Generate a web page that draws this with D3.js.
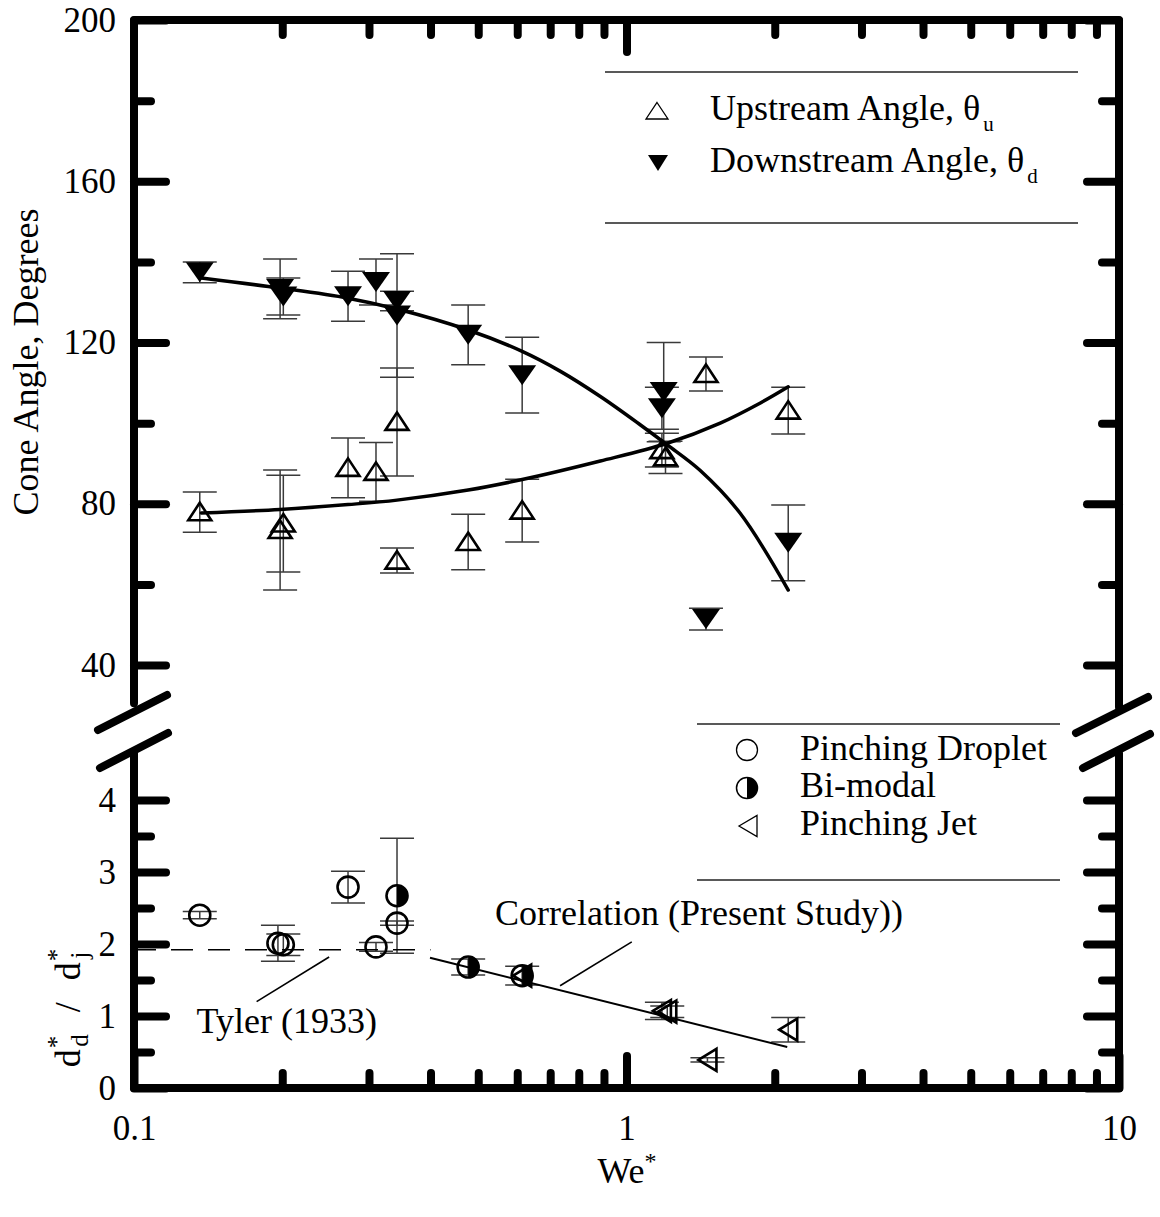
<!DOCTYPE html>
<html><head><meta charset="utf-8">
<script src="https://cdn.jsdelivr.net/npm/d3@7"></script>
<style>
body{margin:0;background:#fff}
svg text{font-family:"Liberation Serif","Times New Roman",serif;fill:#000}
</style>
</head><body>
<svg id="c" width="1160" height="1217"></svg>
<script>
// ---------------- DATA ----------------
// Upper panel: cone angles (degrees) vs We*
const upWe  = [0.136, 0.198, 0.201, 0.272, 0.310, 0.342, 0.342, 0.477, 0.614, 1.18, 1.20, 1.45, 2.13];
const upVal = [77.9, 73.5, 75.1, 88.9, 87.9, 100.3, 65.9, 70.5, 78.3, 93.3, 91.5, 112.2, 103.1];
const upErr = [5.0, 14.9, 12.0, 7.4, 7.3, 13.4, 3.1, 6.9, 7.8, 4.2, 4.0, 4.2, 5.8];

const dnWe  = [0.136, 0.198, 0.201, 0.272, 0.310, 0.342, 0.342, 0.477, 0.614, 1.19, 1.18, 1.45, 2.13];
const dnVal = [137.4, 133.3, 131.4, 131.5, 135.0, 130.3, 126.7, 121.9, 111.9, 107.7, 103.7, 51.4, 70.3];
const dnErr = [2.6, 7.4, 4.6, 6.2, 5.7, 2.4, 15.3, 7.4, 9.4, 12.3, 5.2, 2.7, 9.4];

// fitted curves
const dnCurveWe  = [0.137, 0.198, 0.272, 0.342, 0.477, 0.614, 0.733, 0.885, 1.066, 1.21, 1.41, 1.70, 2.13];
const dnCurveVal = [136.0, 133.5, 131.0, 128.3, 123.1, 117.8, 112.9, 106.6, 99.6, 94.6, 88.3, 77.7, 58.6];
const upCurveWe  = [0.137, 0.198, 0.272, 0.342, 0.477, 0.614, 0.885, 1.21, 1.55, 1.87, 2.13];
const upCurveVal = [77.7, 78.6, 79.8, 80.9, 83.4, 86.0, 90.6, 95.0, 100.0, 105.0, 109.0];

// Lower panel: d*_d / d*_j vs We*
const dropWe  = [0.136, 0.196, 0.201, 0.272, 0.310, 0.342];
const dropVal = [2.40, 2.01, 1.99, 2.79, 1.96, 2.29];
const dropErr = [0.05, 0.25, 0.15, 0.22, 0.06, 0.03];

const biWe  = [0.342, 0.477, 0.614];
const biVal = [2.67, 1.68, 1.56];
const biErr = [0.80, 0.11, 0.13];

const jetWe  = [0.614, 1.18, 1.21, 1.46, 2.13];
const jetVal = [1.56, 1.07, 1.06, 0.39, 0.81];
const jetErr = [0, 0.12, 0.08, 0.03, 0.17];

const tylerWe  = [0.1, 0.4];
const tylerVal = [1.92, 1.92];
const corrWe   = [0.399, 2.12];
const corrVal  = [1.81, 0.57];

// ticks
const xMajor = [0.1, 1, 10];
const xLabels = ["0.1", "1", "10"];
const xMinor = [0.2,0.3,0.4,0.5,0.6,0.7,0.8,0.9,2,3,4,5,6,7,8,9];
const yUMajor = [40, 80, 120, 160, 200];
const yULabels = ["40", "80", "120", "160", "200"];
const yUMinor = [60, 100, 140, 180];
const yLMajor = [0, 1, 2, 3, 4];
const yLLabels = ["0", "1", "2", "3", "4"];
const yLMinor = [0.5, 1.5, 2.5, 3.5];

// ---------------- LAYOUT ----------------
const X0 = 134, X1 = 1119, TOP = 20, BOT = 1088;
const svg = d3.select("#c");
const x  = d3.scaleLog().domain([0.1, 10]).range([X0, X1]);
const yU = d3.scaleLinear().domain([40, 200]).range([665, TOP]);
const yL = d3.scaleLinear().domain([0, 4]).range([BOT, 800]);
const FONT = 36, TICKFONT = 35;
const MAJ = 32, MINV = 17, MINH = 15;

// ---------------- ERROR BARS ----------------
const eb = svg.append("g").attr("stroke", "#3a3a3a").attr("stroke-width", 1.5).attr("fill", "none");
function errBars(we, val, err, y) {
  we.forEach((w, i) => {
    if (!err[i]) return;
    const cx = x(w), y1 = y(val[i] - err[i]), y2 = y(val[i] + err[i]);
    eb.append("line").attr("x1", cx).attr("x2", cx).attr("y1", y1).attr("y2", y2);
    [y1, y2].forEach(yy => eb.append("line").attr("x1", cx - 17).attr("x2", cx + 17).attr("y1", yy).attr("y2", yy));
  });
}
errBars(upWe, upVal, upErr, yU);
errBars(dnWe, dnVal, dnErr, yU);
errBars(dropWe, dropVal, dropErr, yL);
errBars(biWe, biVal, biErr, yL);
errBars(jetWe, jetVal, jetErr, yL);

// ---------------- CURVES / LINES ----------------
const lineU = d3.line().x(d => x(d[0])).y(d => yU(d[1])).curve(d3.curveCatmullRom.alpha(0.5));
const lineL = d3.line().x(d => x(d[0])).y(d => yL(d[1]));
svg.append("path").attr("d", lineU(d3.zip(dnCurveWe, dnCurveVal)))
  .attr("fill", "none").attr("stroke", "#000").attr("stroke-width", 3.5).attr("stroke-linecap", "round");
svg.append("path").attr("d", lineU(d3.zip(upCurveWe, upCurveVal)))
  .attr("fill", "none").attr("stroke", "#000").attr("stroke-width", 3.5).attr("stroke-linecap", "round");
svg.append("path").attr("d", lineL(d3.zip(tylerWe, tylerVal)))
  .attr("fill", "none").attr("stroke", "#000").attr("stroke-width", 1.6).attr("stroke-dasharray", "22,15");
svg.append("path").attr("d", lineL(d3.zip(corrWe, corrVal)))
  .attr("fill", "none").attr("stroke", "#000").attr("stroke-width", 2);

// ---------------- MARKERS ----------------
const upTri = "M0,-9.5L11.5,8L-11.5,8Z";
const dnTri = "M-14,-10L14,-10L0,10Z";
const leftTri = "M-9,0L9,-11L9,11Z";
const R = 10.5;
const half = `M0,${-R}A${R},${R} 0 0 1 0,${R}Z`;

svg.append("g").selectAll("path").data(d3.zip(upWe, upVal)).join("path")
  .attr("d", upTri).attr("transform", d => `translate(${x(d[0])},${yU(d[1])})`)
  .attr("fill", "none").attr("stroke", "#000").attr("stroke-width", 2.6);
svg.append("g").selectAll("path").data(d3.zip(dnWe, dnVal)).join("path")
  .attr("d", dnTri).attr("transform", d => `translate(${x(d[0])},${yU(d[1])})`)
  .attr("fill", "#000");
svg.append("g").selectAll("circle").data(d3.zip(dropWe, dropVal)).join("circle")
  .attr("cx", d => x(d[0])).attr("cy", d => yL(d[1])).attr("r", R)
  .attr("fill", "none").attr("stroke", "#000").attr("stroke-width", 2.6);
const bg = svg.append("g").selectAll("g").data(d3.zip(biWe, biVal)).join("g")
  .attr("transform", d => `translate(${x(d[0])},${yL(d[1])})`);
bg.append("circle").attr("r", R).attr("fill", "none").attr("stroke", "#000").attr("stroke-width", 2.6);
bg.append("path").attr("d", half).attr("fill", "#000");
svg.append("g").selectAll("path").data(d3.zip(jetWe, jetVal)).join("path")
  .attr("d", leftTri).attr("transform", d => `translate(${x(d[0])},${yL(d[1])})`)
  .attr("fill", "none").attr("stroke", "#000").attr("stroke-width", 2.6);

// ---------------- AXES ----------------
function styleAxis(g) {
  g.select(".domain").remove();
  g.selectAll(".tick line").attr("stroke", "#000").attr("stroke-width", 8).attr("stroke-linecap", "round");
  g.selectAll(".tick text").attr("font-size", TICKFONT).attr("font-family", '"Liberation Serif","Times New Roman",serif').attr("fill", "#000");
}
const bx = svg.append("g").attr("transform", `translate(0,${BOT})`);
bx.append("g").call(d3.axisBottom(x).tickValues(xMinor).tickFormat("").tickSize(-MINH)).call(styleAxis);
bx.append("g").call(d3.axisBottom(x).tickValues(xMajor).tickFormat((d, i) => xLabels[i]).tickSize(-MAJ).tickPadding(27)).call(styleAxis);
const tx = svg.append("g").attr("transform", `translate(0,${TOP})`);
tx.append("g").call(d3.axisTop(x).tickValues(xMinor).tickFormat("").tickSize(-MINH)).call(styleAxis);
tx.append("g").call(d3.axisTop(x).tickValues([1]).tickFormat("").tickSize(-MAJ)).call(styleAxis);

const lA = svg.append("g").attr("transform", `translate(${X0},0)`);
lA.append("g").call(d3.axisLeft(yU).tickValues(yUMinor).tickFormat("").tickSize(-MINV)).call(styleAxis);
lA.append("g").call(d3.axisLeft(yU).tickValues(yUMajor).tickFormat((d, i) => yULabels[i]).tickSize(-MAJ).tickPadding(18)).call(styleAxis);
lA.append("g").call(d3.axisLeft(yL).tickValues(yLMinor).tickFormat("").tickSize(-MINV)).call(styleAxis);
lA.append("g").call(d3.axisLeft(yL).tickValues(yLMajor).tickFormat((d, i) => yLLabels[i]).tickSize(-MAJ).tickPadding(18)).call(styleAxis);
const rA = svg.append("g").attr("transform", `translate(${X1},0)`);
rA.append("g").call(d3.axisRight(yU).tickValues(yUMinor).tickFormat("").tickSize(-MINV)).call(styleAxis);
rA.append("g").call(d3.axisRight(yU).tickValues(yUMajor).tickFormat("").tickSize(-MAJ)).call(styleAxis);
rA.append("g").call(d3.axisRight(yL).tickValues(yLMinor).tickFormat("").tickSize(-MINV)).call(styleAxis);
rA.append("g").call(d3.axisRight(yL).tickValues(yLMajor).tickFormat("").tickSize(-MAJ)).call(styleAxis);

// frame with axis break
const gapTop = yU(30.5), gapBot = yL(4.65);
const frame = svg.append("g").attr("fill", "none").attr("stroke", "#000").attr("stroke-width", 8)
  .attr("stroke-linecap", "round").attr("stroke-linejoin", "round");
frame.append("path").attr("d", `M${X0},${gapTop}L${X0},${TOP}L${X1},${TOP}L${X1},${gapTop + 4}`);
frame.append("path").attr("d", `M${X0},${gapBot}L${X0},${BOT}L${X1},${BOT}L${X1},${gapBot}`);
// break marks
const brk = [[X0 - 36, 730, X0 + 33, 695], [X0 - 34, 768, X0 + 34, 733],
             [X1 - 43, 733, X1 + 29, 697], [X1 - 36, 768, X1 + 31, 734]];
brk.forEach(b => frame.append("line").attr("x1", b[0]).attr("y1", b[1]).attr("x2", b[2]).attr("y2", b[3]));

// ---------------- TITLES ----------------
svg.append("text").attr("transform", "translate(38,362) rotate(-90)").attr("text-anchor", "middle")
  .attr("font-size", FONT).text("Cone Angle, Degrees");
const yl = svg.append("text").attr("transform", "translate(80,1008) rotate(-90)").attr("text-anchor", "middle")
  .attr("font-size", FONT);
yl.append("tspan").text("d");
yl.append("tspan").attr("font-size", 25).attr("dy", -15).attr("dx", 1).text("*");
yl.append("tspan").attr("font-size", 25).attr("dy", 23).attr("dx", -11).text("d");
yl.append("tspan").attr("dy", -8).attr("dx", 22).text("/");
yl.append("tspan").attr("dx", 22).text("d");
yl.append("tspan").attr("font-size", 25).attr("dy", -15).attr("dx", 1).text("*");
yl.append("tspan").attr("font-size", 25).attr("dy", 23).attr("dx", -10).text("j");
const xl = svg.append("text").attr("x", 627).attr("y", 1183).attr("text-anchor", "middle").attr("font-size", FONT);
xl.append("tspan").text("We");
xl.append("tspan").attr("font-size", 24).attr("dy", -14).text("*");

// ---------------- ANNOTATIONS ----------------
const ann = svg.append("g").attr("stroke", "#000").attr("stroke-width", 1.6);
ann.append("line").attr("x1", x(0.1774)).attr("y1", yL(1.20)).attr("x2", x(0.249)).attr("y2", yL(1.82));
ann.append("line").attr("x1", x(1.025)).attr("y1", yL(2.03)).attr("x2", x(0.733)).attr("y2", yL(1.42));
svg.append("text").attr("x", x(0.134)).attr("y", yL(0.76)).attr("font-size", FONT).text("Tyler (1933)");
svg.append("text").attr("x", x(0.541)).attr("y", yL(2.26)).attr("font-size", FONT).text("Correlation (Present Study))");

// ---------------- LEGENDS ----------------
const lg = svg.append("g");
function legLine(x1, x2, y) {
  lg.append("line").attr("x1", x1).attr("x2", x2).attr("y1", y).attr("y2", y).attr("stroke", "#222").attr("stroke-width", 1.5);
}
legLine(605, 1078, 72); legLine(605, 1078, 223);
lg.append("path").attr("d", "M0,-8.5L11,8L-11,8Z").attr("transform", "translate(657,111)")
  .attr("fill", "none").attr("stroke", "#000").attr("stroke-width", 1.3);
lg.append("path").attr("d", "M-10,-8L10,-8L0,8Z").attr("transform", "translate(658,163)").attr("fill", "#000");
function legText(xx, yy, main, sub) {
  const t = lg.append("text").attr("x", xx).attr("y", yy).attr("font-size", FONT);
  t.append("tspan").text(main);
  if (sub) t.append("tspan").attr("font-size", 21).attr("dy", 11).attr("dx", 3).text(sub);
}
legText(710, 120, "Upstream Angle, θ", "u");
legText(710, 172, "Downstream Angle, θ", "d");

legLine(697, 1060, 724); legLine(697, 1060, 880);
lg.append("circle").attr("cx", 747).attr("cy", 750).attr("r", 10.5).attr("fill", "none").attr("stroke", "#000").attr("stroke-width", 1.3);
lg.append("circle").attr("cx", 747).attr("cy", 788).attr("r", 10.5).attr("fill", "none").attr("stroke", "#000").attr("stroke-width", 1.5);
lg.append("path").attr("d", "M0,-10.5A10.5,10.5 0 0 1 0,10.5Z").attr("transform", "translate(747,788)").attr("fill", "#000");
lg.append("path").attr("d", "M-9,0L9,-10.5L9,10.5Z").attr("transform", "translate(748,826)")
  .attr("fill", "none").attr("stroke", "#000").attr("stroke-width", 1.3);
legText(800, 760, "Pinching Droplet");
legText(800, 797, "Bi-modal");
legText(800, 835, "Pinching Jet");
</script>
</body></html>
